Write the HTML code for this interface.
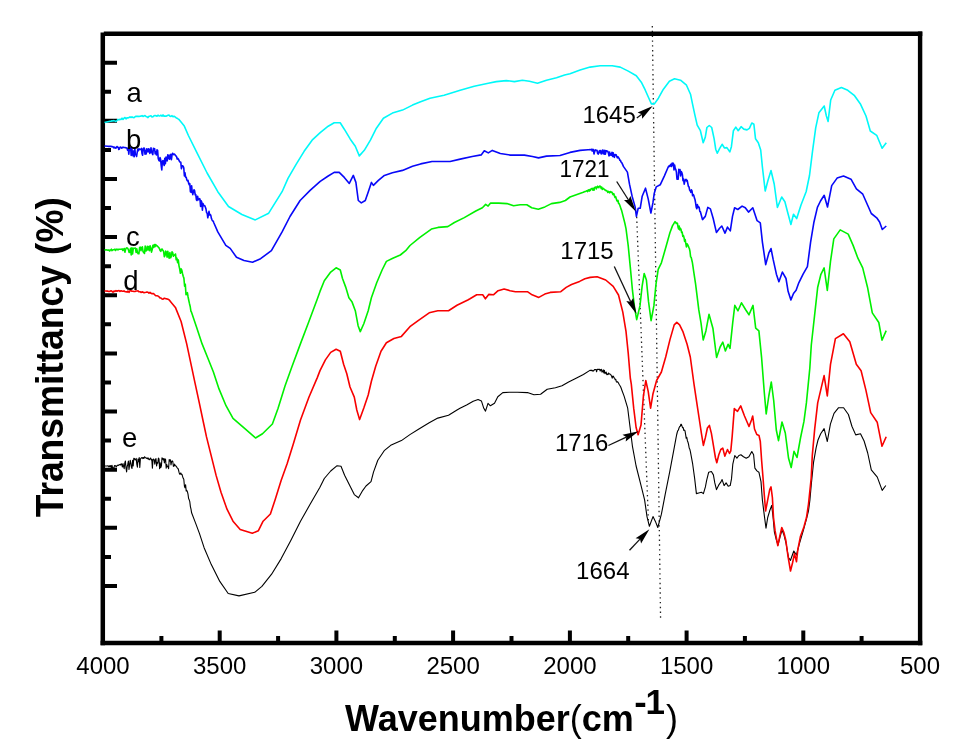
<!DOCTYPE html>
<html><head><meta charset="utf-8"><style>
html,body{margin:0;padding:0;background:#fff;width:973px;height:747px;overflow:hidden}
svg{display:block}
text{font-family:"Liberation Sans",Arial,sans-serif;fill:#000}
.tl{font-size:24px}
.lt{font-size:27.5px}
.an{font-size:24px}
.xt{font-size:36px;font-weight:bold}
.yt{font-size:38px;font-weight:bold}
</style></head><body>
<svg width="973" height="747" viewBox="0 0 973 747">
<rect x="0" y="0" width="973" height="747" fill="#ffffff"/>
<line x1="652.3" y1="26" x2="660.6" y2="621" stroke="#222" stroke-width="1.3" stroke-dasharray="1.4 3.4"/>
<line x1="636.5" y1="212" x2="648.5" y2="523" stroke="#222" stroke-width="1.3" stroke-dasharray="1.4 3.4"/>
<path d="M102.8 32.6 V645.2" stroke="#000" stroke-width="4.5" fill="none"/>
<path d="M100.6 642.9 H922.3" stroke="#000" stroke-width="4.5" fill="none"/>
<path d="M103.8 33.8 H922.3" stroke="#000" stroke-width="4.4" fill="none"/>
<path d="M920.1 31.6 V645.2" stroke="#000" stroke-width="4.4" fill="none"/>
<path d="M105 62.7 H117 M105 91.7 H111 M105 120.8 H117 M105 149.9 H111 M105 178.9 H117 M105 208.0 H111 M105 237.1 H117 M105 266.2 H111 M105 295.2 H117 M105 324.3 H111 M105 353.4 H117 M105 382.4 H111 M105 411.5 H117 M105 440.6 H111 M105 469.7 H117 M105 498.7 H111 M105 527.8 H117 M105 556.9 H111 M105 585.9 H117" stroke="#000" stroke-width="4" fill="none"/>
<path d="M161.4 641 V636.0 M219.7 641 V630.5 M278.1 641 V636.0 M336.4 641 V630.5 M394.8 641 V636.0 M453.1 641 V630.5 M511.5 641 V636.0 M569.9 641 V630.5 M628.2 641 V636.0 M686.6 641 V630.5 M744.9 641 V636.0 M803.3 641 V630.5 M861.6 641 V636.0" stroke="#000" stroke-width="4" fill="none"/>
<path d="M104.5 466.0 L106.0 466.0 L106.6 466.0 L107.2 466.0 L107.8 465.8 L108.4 466.1 L109.0 466.9 L109.6 465.7 L110.2 466.7 L110.8 465.6 L111.4 468.1 L112.0 465.4 L112.6 467.6 L113.2 467.9 L113.8 468.7 L114.4 465.8 L115.0 465.5 L115.6 465.9 L116.2 466.9 L116.8 466.0 L117.4 465.4 L118.0 465.1 L118.6 465.4 L119.2 464.9 L119.8 464.5 L120.0 464.4 L120.6 465.0 L121.2 463.7 L121.8 464.5 L122.4 467.0 L123.0 463.5 L123.6 466.5 L124.2 468.7 L124.8 462.8 L125.4 461.0 L126.0 468.0 L126.6 471.9 L127.2 466.5 L127.8 464.2 L128.4 461.1 L129.0 469.5 L129.6 464.9 L130.2 460.2 L130.8 463.1 L131.4 467.1 L132.0 468.4 L132.6 460.4 L133.2 465.9 L133.8 458.2 L134.4 458.4 L135.0 459.9 L135.6 459.7 L136.2 458.4 L136.8 464.1 L137.4 467.2 L138.0 459.1 L138.6 461.6 L139.2 457.5 L139.8 467.4 L140.4 458.7 L141.0 458.4 L141.6 457.7 L142.2 457.5 L142.8 458.6 L143.4 457.5 L144.0 458.4 L144.6 456.8 L145.2 457.4 L145.8 457.9 L146.4 458.4 L147.0 457.8 L147.6 458.8 L148.2 458.0 L148.8 459.4 L149.4 459.7 L150.0 458.7 L150.6 458.0 L151.2 459.9 L151.8 459.4 L152.4 468.1 L153.0 459.4 L153.6 459.1 L154.2 460.0 L154.8 464.1 L155.4 459.3 L156.0 458.7 L156.6 466.0 L157.2 462.6 L157.8 463.2 L158.4 458.1 L159.0 458.8 L159.6 468.6 L160.2 462.8 L160.8 467.6 L161.4 465.9 L162.0 457.9 L162.6 458.4 L163.2 459.9 L163.8 458.5 L164.4 463.0 L165.0 458.8 L165.6 459.6 L166.2 468.1 L166.8 464.6 L167.4 466.8 L168.0 466.3 L168.6 468.7 L169.2 459.5 L169.8 461.1 L170.4 459.8 L171.0 464.9 L171.6 461.7 L172.2 460.9 L172.8 461.5 L173.4 466.4 L174.0 466.0 L174.6 464.1 L175.2 465.7 L175.8 465.7 L176.0 466.0 L176.0 466.0 L176.6 466.9 L177.2 467.8 L177.8 468.4 L178.4 469.4 L179.0 472.2 L179.6 474.2 L180.2 474.2 L180.8 472.9 L181.4 474.4 L182.0 474.4 L182.6 476.5 L183.2 478.3 L183.8 479.3 L184.4 486.0 L185.0 487.8 L185.6 484.7 L186.2 491.0 L186.8 490.4 L187.4 491.7 L188.0 494.2 L188.6 498.5 L189.2 499.8 L189.8 501.7 L190.4 506.6 L191.0 509.2 L191.6 512.8 L195.5 522.9 L199.5 533.6 L204.1 547.7 L211.3 564.6 L219.8 581.4 L228.2 593.5 L239.0 595.9 L254.7 592.3 L261.9 586.3 L271.6 574.2 L281.2 558.6 L290.8 540.5 L300.5 521.2 L310.1 504.3 L319.8 487.5 L324.3 478.5 L330.7 471.0 L337.1 465.7 L341.0 466.3 L344.6 475.3 L350.0 486.0 L354.3 494.6 L358.5 497.8 L362.8 490.3 L366.0 486.0 L371.0 481.7 L373.5 472.1 L377.8 460.3 L384.2 450.7 L390.7 445.3 L401.4 440.6 L409.9 434.6 L418.5 429.3 L429.2 422.8 L437.8 418.1 L448.5 415.3 L457.0 410.0 L460.0 408.3 L466.6 405.0 L473.2 401.2 L478.1 399.5 L481.4 400.9 L483.8 408.3 L485.5 411.1 L488.0 403.3 L490.4 405.8 L494.5 403.3 L497.8 396.7 L502.8 392.6 L509.3 392.3 L517.6 392.3 L527.4 392.6 L534.0 394.8 L540.6 394.3 L547.2 389.3 L555.4 387.7 L562.0 385.7 L568.6 381.9 L575.1 378.7 L583.4 374.5 L589.9 370.4 L590.0 370.4 L590.6 370.3 L591.2 370.7 L591.8 370.1 L592.4 370.9 L593.0 370.7 L593.6 371.0 L594.2 370.0 L594.8 369.5 L595.4 369.5 L596.0 369.6 L596.6 371.8 L597.2 369.2 L597.8 369.4 L598.4 369.4 L599.0 369.2 L599.6 369.3 L600.2 371.0 L600.8 369.5 L601.4 369.4 L602.0 372.2 L602.6 371.7 L603.2 369.8 L603.8 372.9 L604.4 370.3 L605.0 373.6 L605.6 372.7 L606.2 372.2 L606.8 374.6 L607.4 374.0 L608.0 374.7 L608.6 373.0 L609.2 373.8 L609.8 374.0 L610.4 374.5 L611.0 374.9 L611.6 376.2 L612.2 378.2 L612.8 376.1 L613.4 376.3 L614.0 377.7 L614.6 378.1 L615.2 379.7 L615.8 379.4 L616.4 381.9 L617.0 382.1 L617.6 381.7 L618.2 382.6 L618.8 383.7 L619.4 384.8 L620.0 385.7 L620.6 386.7 L621.2 388.3 L621.8 390.0 L624.1 396.1 L627.7 408.2 L630.1 427.5 L632.5 446.7 L636.1 466.0 L641.0 485.3 L644.6 499.8 L647.0 516.6 L649.4 526.3 L653.0 516.6 L655.4 521.4 L657.8 527.5 L661.4 514.2 L665.1 494.9 L669.9 470.8 L673.5 451.6 L676.0 438.2 L676.6 435.0 L677.2 432.5 L677.8 430.6 L678.4 430.1 L679.0 428.0 L679.6 426.6 L680.2 426.4 L680.8 424.3 L681.4 424.4 L682.0 426.1 L682.6 427.7 L683.2 427.6 L683.8 430.4 L684.4 430.0 L685.0 430.9 L685.6 434.4 L686.2 438.3 L686.8 437.4 L687.4 440.7 L688.0 442.2 L688.6 444.6 L689.2 448.0 L689.8 449.2 L690.4 451.6 L691.0 454.9 L691.6 458.2 L692.7 464.2 L694.7 478.9 L696.4 493.6 L698.7 493.0 L701.4 492.3 L703.4 493.6 L705.4 486.9 L706.7 480.2 L708.7 472.2 L711.4 471.5 L713.4 474.9 L714.8 482.9 L716.5 489.6 L718.8 484.9 L720.8 482.2 L722.1 479.6 L724.1 485.6 L726.1 482.9 L728.2 486.3 L730.2 485.6 L731.5 478.9 L732.8 464.2 L734.8 455.5 L736.9 458.2 L738.9 455.5 L740.9 454.8 L743.5 456.8 L746.2 458.2 L748.9 456.8 L751.8 451.5 L753.6 454.8 L754.9 468.2 L756.9 470.9 L758.9 472.2 L761.0 481.6 L762.4 500.1 L764.4 516.1 L766.0 528.2 L767.7 517.5 L769.7 510.8 L771.7 505.4 L773.1 517.5 L774.4 532.2 L776.4 540.2 L778.0 545.0 L780.0 537.0 L782.0 530.0 L784.0 535.0 L786.0 543.0 L788.5 557.6 L790.5 560.3 L793.8 551.0 L796.5 555.0 L799.2 544.3 L803.2 530.9 L806.5 518.8 L808.5 510.8 L809.9 500.1 L811.2 485.4 L813.5 462.7 L816.1 447.9 L818.0 440.0 L820.7 433.7 L824.1 428.6 L827.3 441.5 L830.4 424.1 L834.0 413.3 L838.6 407.7 L843.6 407.7 L848.4 414.5 L852.0 426.5 L855.7 434.9 L860.5 433.7 L864.1 441.0 L867.7 453.0 L871.3 469.9 L877.3 477.1 L882.2 490.4 L885.8 485.5" fill="none" stroke="#000000" stroke-width="1.1" stroke-linejoin="round"/>
<path d="M104.5 291.0 L106.0 291.0 L107.0 291.1 L108.0 291.1 L109.0 291.6 L110.0 291.2 L111.0 290.8 L112.0 291.3 L113.0 292.1 L114.0 291.1 L115.0 291.4 L116.0 290.6 L117.0 291.2 L118.0 290.7 L119.0 290.6 L120.0 291.4 L121.0 290.8 L122.0 291.1 L123.0 291.3 L124.0 290.9 L125.0 291.7 L126.0 291.8 L127.0 292.1 L128.0 291.0 L129.0 292.4 L130.0 290.7 L131.0 290.8 L132.0 291.3 L133.0 291.2 L134.0 291.5 L135.0 291.5 L136.0 291.0 L137.0 291.0 L138.0 290.9 L139.0 291.8 L140.0 291.7 L141.0 292.5 L142.0 291.9 L143.0 292.1 L144.0 292.7 L145.0 292.5 L146.0 292.3 L147.0 292.0 L148.0 292.2 L149.0 293.2 L150.0 292.4 L151.0 293.3 L152.0 293.7 L153.0 293.4 L154.0 293.9 L155.0 295.1 L156.0 295.8 L157.0 295.7 L158.0 296.0 L159.0 296.8 L160.0 297.9 L161.0 298.0 L162.0 299.0 L163.0 299.2 L164.0 298.3 L165.0 298.4 L166.0 298.7 L167.0 298.9 L168.0 299.3 L169.0 299.8 L170.0 300.9 L175.4 307.4 L181.1 321.5 L186.7 343.9 L190.9 363.6 L195.1 383.3 L199.3 402.9 L202.9 420.0 L206.5 436.9 L211.3 456.1 L216.1 475.4 L221.0 492.3 L227.0 509.2 L233.0 521.2 L240.2 529.6 L252.3 533.3 L258.3 530.8 L263.1 521.2 L270.4 514.0 L275.2 499.5 L281.2 480.2 L287.2 463.4 L293.3 444.1 L300.5 420.0 L308.9 397.3 L317.3 377.6 L320.0 370.6 L325.4 359.9 L330.7 352.4 L336.1 349.2 L340.3 351.3 L343.6 364.2 L346.8 373.8 L350.0 387.0 L354.3 397.1 L356.8 410.0 L359.6 419.6 L363.9 407.8 L368.2 395.0 L371.4 381.3 L375.7 366.3 L381.0 351.3 L386.4 342.8 L393.9 338.5 L401.4 336.4 L409.9 326.7 L418.5 320.3 L429.2 312.8 L437.8 310.7 L448.5 310.7 L457.0 305.3 L467.8 300.0 L470.0 298.8 L476.7 294.8 L482.7 294.8 L485.4 298.8 L488.7 294.4 L493.4 294.8 L498.1 290.7 L504.1 289.1 L510.1 290.7 L515.4 291.7 L527.4 291.7 L532.1 294.8 L538.8 297.4 L544.8 294.1 L550.2 292.4 L560.8 291.7 L566.2 287.4 L571.5 284.5 L579.6 281.4 L584.9 278.7 L590.2 277.4 L597.1 276.7 L605.7 280.0 L613.2 286.4 L618.5 295.0 L622.8 312.1 L626.0 331.3 L628.2 352.8 L630.3 378.0 L631.3 384.1 L633.7 408.2 L636.1 427.5 L638.1 434.7 L641.0 425.1 L643.4 396.1 L645.8 380.5 L648.2 391.3 L650.6 408.2 L653.0 393.7 L656.6 380.5 L661.4 372.0 L665.7 357.0 L669.9 339.9 L674.2 324.9 L676.8 322.4 L679.6 324.9 L682.8 331.3 L687.1 344.2 L690.3 357.0 L694.0 384.1 L697.6 408.2 L699.4 420.0 L701.4 433.4 L703.4 445.4 L705.4 437.4 L707.4 428.0 L709.4 425.4 L711.4 433.4 L713.4 445.4 L715.4 457.5 L716.8 462.8 L718.8 454.8 L720.8 449.5 L722.8 448.1 L724.8 456.1 L727.5 449.5 L729.5 453.5 L730.8 450.8 L732.2 436.1 L734.3 408.6 L737.5 411.3 L740.7 405.9 L744.5 416.0 L749.0 426.5 L751.5 420.0 L752.7 416.0 L754.5 429.0 L756.8 434.5 L759.0 435.5 L760.3 441.4 L761.6 460.2 L762.9 476.2 L764.3 495.0 L765.6 511.0 L767.6 500.3 L769.7 489.6 L771.0 486.9 L772.4 497.6 L773.5 517.5 L775.1 530.9 L777.8 545.6 L779.8 536.2 L781.8 527.5 L783.8 532.2 L785.8 540.2 L787.8 555.0 L790.5 571.0 L792.5 563.0 L794.5 553.6 L796.5 561.7 L797.8 549.6 L800.5 536.2 L803.9 526.9 L806.5 517.5 L808.5 504.1 L809.9 490.7 L811.2 478.0 L812.3 455.4 L814.7 428.9 L817.7 402.9 L824.1 375.6 L827.3 395.9 L830.5 364.3 L835.4 338.6 L843.4 333.8 L849.8 341.8 L856.3 364.3 L861.1 370.8 L865.9 390.1 L870.7 412.6 L877.2 422.2 L882.0 446.3 L886.2 436.7" fill="none" stroke="#f80000" stroke-width="1.6" stroke-linejoin="round"/>
<path d="M104.5 250.0 L106.0 249.9 L106.6 249.9 L107.2 250.1 L107.8 250.3 L108.4 250.1 L109.0 250.0 L109.6 251.0 L110.2 250.0 L110.8 249.9 L111.4 249.2 L112.0 250.6 L112.6 250.1 L113.2 249.8 L113.8 249.8 L114.4 249.4 L115.0 249.4 L115.6 250.5 L116.2 249.2 L116.8 249.4 L117.4 249.3 L118.0 249.9 L118.6 249.3 L119.2 249.3 L119.8 249.3 L120.0 249.2 L120.7 249.3 L121.4 249.2 L122.1 248.9 L122.8 250.5 L123.5 249.5 L124.2 248.5 L124.9 252.2 L125.6 249.4 L126.3 248.0 L127.0 247.9 L127.7 248.4 L128.4 249.6 L129.1 252.4 L129.8 252.2 L130.5 248.3 L131.2 255.0 L131.9 247.9 L132.6 254.0 L133.3 248.2 L134.0 248.3 L134.7 248.3 L135.4 248.0 L136.1 252.4 L136.8 248.8 L137.5 252.6 L138.2 253.7 L138.9 253.8 L139.6 247.5 L140.3 247.2 L141.0 250.6 L141.7 247.7 L142.4 246.8 L143.1 251.8 L143.8 252.5 L144.5 253.4 L145.2 246.0 L145.9 250.9 L146.6 250.6 L147.3 246.2 L148.0 249.6 L148.7 246.6 L149.4 250.7 L150.1 245.8 L150.8 248.3 L151.5 252.1 L152.2 249.5 L152.9 245.4 L153.6 247.5 L154.3 244.5 L155.0 246.8 L155.7 244.5 L156.4 245.8 L157.1 245.9 L157.8 246.6 L158.0 246.8 L158.7 247.5 L159.4 248.5 L160.1 250.4 L160.8 251.3 L161.5 249.3 L162.2 249.1 L162.9 250.5 L163.6 251.3 L164.3 256.7 L165.0 255.6 L165.7 251.1 L166.4 252.2 L167.1 257.2 L167.8 251.2 L168.5 255.7 L169.2 258.2 L169.9 252.5 L170.6 257.8 L171.3 256.4 L172.0 251.9 L172.7 252.7 L173.4 256.2 L174.1 255.1 L174.8 255.0 L175.5 254.0 L176.2 259.8 L176.9 258.2 L177.6 262.6 L178.3 259.9 L179.0 265.8 L179.7 269.0 L180.4 273.3 L181.1 268.8 L181.8 270.1 L182.5 273.5 L183.2 276.3 L183.9 278.1 L184.6 286.2 L185.3 284.2 L186.0 294.7 L186.7 294.5 L187.4 292.7 L188.1 297.0 L188.8 300.5 L189.5 303.7 L190.2 306.5 L190.9 311.1 L191.6 312.4 L196.5 327.1 L202.1 343.9 L207.8 358.0 L213.4 372.0 L219.0 388.9 L226.0 405.7 L233.0 418.4 L244.3 428.2 L255.5 438.0 L262.5 433.8 L272.4 424.0 L278.0 408.5 L285.0 386.1 L292.0 366.4 L300.4 343.9 L308.9 321.5 L317.3 299.0 L320.0 291.4 L324.3 280.7 L330.7 272.1 L336.1 267.8 L340.3 270.0 L342.5 278.5 L345.7 287.1 L348.9 297.8 L352.1 302.1 L355.3 310.7 L358.1 325.7 L360.3 331.6 L363.9 323.5 L368.2 310.7 L371.4 297.8 L376.7 282.8 L382.1 270.0 L386.4 261.4 L392.8 258.2 L400.3 255.0 L405.7 250.7 L410.0 245.5 L419.9 237.3 L431.4 229.1 L438.0 227.4 L447.8 226.6 L454.4 222.5 L464.3 217.6 L475.8 211.0 L482.4 207.7 L485.7 204.4 L488.1 206.1 L490.6 203.1 L498.8 203.1 L507.0 203.6 L513.6 205.7 L520.2 204.7 L526.8 204.7 L531.7 207.7 L538.3 209.3 L544.9 206.9 L551.4 203.6 L559.7 202.4 L565.4 200.5 L570.0 197.0 L583.3 192.2 L585.0 191.5 L585.6 191.5 L586.2 191.0 L586.8 190.8 L587.4 191.6 L588.0 190.2 L588.6 189.8 L589.2 191.1 L589.8 189.5 L590.4 190.3 L591.0 189.0 L591.6 188.6 L592.2 188.4 L592.8 190.1 L593.4 188.3 L594.0 190.2 L594.6 187.6 L595.2 187.2 L595.8 187.0 L596.4 188.9 L597.0 186.8 L597.6 186.2 L598.2 187.3 L598.8 187.7 L599.4 186.4 L600.0 186.0 L600.6 186.6 L601.2 188.5 L601.8 187.2 L602.4 189.5 L603.0 188.3 L603.6 188.6 L604.2 189.3 L604.8 189.7 L605.4 190.5 L606.0 190.4 L606.6 190.9 L607.2 191.0 L607.8 192.4 L608.4 191.4 L609.0 191.8 L609.6 192.9 L610.2 191.6 L610.8 192.3 L611.4 192.0 L612.0 192.3 L612.6 193.9 L613.2 194.7 L613.8 193.6 L614.4 195.8 L615.0 197.4 L615.6 196.6 L616.2 198.6 L616.8 200.5 L617.4 201.4 L618.0 200.4 L618.6 203.5 L619.2 203.8 L619.8 205.3 L620.4 207.0 L621.0 208.9 L621.6 210.4 L624.8 223.0 L626.0 228.6 L628.2 245.7 L630.3 267.1 L632.5 290.7 L634.6 307.8 L636.7 319.6 L640.0 305.7 L642.1 286.4 L644.2 273.5 L646.4 280.0 L648.5 301.4 L651.1 320.6 L653.9 305.7 L656.0 284.2 L658.2 269.3 L661.4 262.8 L665.7 247.8 L669.9 232.8 L672.0 227.1 L672.6 225.4 L673.2 224.8 L673.8 223.7 L674.4 222.7 L675.0 221.7 L675.6 222.1 L676.2 223.5 L676.8 223.0 L677.4 223.2 L678.0 226.9 L678.6 228.9 L679.2 226.0 L679.8 230.0 L680.4 228.3 L681.0 229.4 L681.6 232.5 L682.2 232.2 L682.8 236.5 L683.4 235.5 L684.0 237.4 L684.6 241.5 L685.2 239.6 L685.8 243.5 L686.4 246.9 L687.0 243.8 L687.6 244.5 L688.2 245.9 L688.8 247.4 L689.4 248.6 L690.0 251.5 L690.6 256.9 L691.2 257.3 L691.8 260.0 L692.4 262.7 L693.0 266.7 L693.6 270.8 L695.6 284.2 L698.8 309.9 L701.0 322.8 L703.2 340.0 L705.9 330.9 L709.0 314.3 L712.9 328.2 L716.6 357.5 L720.1 347.0 L722.8 342.1 L725.4 351.0 L728.1 344.3 L730.0 348.3 L732.7 322.9 L734.8 305.4 L738.0 310.8 L741.5 302.8 L745.5 309.5 L749.0 314.8 L753.0 305.4 L755.7 328.2 L758.9 330.9 L761.6 357.7 L764.3 392.5 L766.2 414.0 L768.8 396.0 L771.3 382.0 L773.7 400.5 L776.3 430.0 L778.5 440.7 L782.0 422.0 L785.3 433.0 L788.5 458.0 L791.2 467.5 L794.0 451.4 L797.0 457.5 L800.5 438.0 L803.9 421.7 L806.4 402.9 L809.8 368.4 L811.3 345.0 L814.5 316.1 L817.7 287.2 L820.9 274.3 L824.1 267.9 L827.3 290.4 L830.5 261.4 L833.8 238.9 L840.2 229.9 L848.2 234.1 L853.1 245.4 L857.9 258.2 L862.7 267.9 L867.5 287.2 L872.3 312.9 L878.8 322.5 L882.0 340.2 L886.2 330.6" fill="none" stroke="#00f000" stroke-width="1.6" stroke-linejoin="round"/>
<path d="M104.5 146.0 L108.0 146.2 L108.6 146.4 L109.2 146.4 L109.8 146.3 L110.4 146.4 L111.0 146.2 L111.6 146.4 L112.2 146.9 L112.8 146.6 L113.4 147.1 L114.0 148.0 L114.6 147.2 L115.2 147.6 L115.8 148.2 L116.4 147.4 L117.0 146.5 L117.6 147.3 L118.2 147.4 L118.8 149.4 L119.4 149.0 L120.0 147.3 L120.6 147.1 L121.2 147.4 L121.8 148.2 L122.4 147.4 L123.0 147.3 L123.6 147.4 L124.0 147.5 L124.6 147.5 L125.2 147.6 L125.8 147.7 L126.4 148.0 L127.0 148.0 L127.6 150.3 L128.2 148.2 L128.8 154.1 L129.4 148.8 L130.0 147.9 L130.6 147.6 L131.2 155.4 L131.8 147.8 L132.4 152.9 L133.0 155.8 L133.6 151.1 L134.2 156.8 L134.8 147.8 L135.4 154.8 L136.0 154.4 L136.6 156.5 L137.2 152.5 L137.8 149.1 L138.4 150.7 L139.0 148.8 L139.6 149.5 L140.2 149.5 L140.8 149.4 L141.4 148.4 L142.0 153.4 L142.6 155.3 L143.2 148.6 L143.8 148.1 L144.4 148.3 L145.0 154.1 L145.6 150.6 L146.2 154.0 L146.8 148.7 L147.4 149.5 L148.0 151.9 L148.6 148.8 L149.2 149.1 L149.8 153.4 L150.4 152.2 L151.0 147.8 L151.6 151.5 L152.2 153.4 L152.8 154.6 L153.4 148.2 L154.0 149.7 L154.6 148.7 L155.2 153.8 L155.8 151.9 L156.4 154.9 L157.0 149.8 L157.6 150.3 L158.2 158.3 L158.8 160.3 L159.4 161.0 L160.0 157.6 L160.6 159.3 L161.2 165.6 L161.8 170.0 L162.4 161.0 L163.0 160.5 L163.6 163.4 L164.2 165.4 L164.8 158.4 L165.4 163.8 L166.0 157.0 L166.6 160.5 L167.2 160.9 L167.8 154.8 L168.4 155.3 L169.0 158.9 L169.6 159.2 L170.2 154.7 L170.8 154.3 L171.4 159.6 L172.0 155.3 L172.6 153.3 L173.2 154.1 L173.8 154.6 L174.4 154.1 L175.0 154.8 L175.6 155.5 L176.0 156.1 L176.6 156.8 L177.2 159.1 L177.8 158.4 L178.4 159.1 L179.0 160.3 L179.6 161.8 L180.2 162.1 L180.8 162.3 L181.4 168.8 L182.0 165.8 L182.6 165.7 L183.2 166.3 L183.8 168.1 L184.4 176.0 L185.0 172.8 L185.6 177.1 L186.2 177.2 L186.8 179.9 L187.4 180.8 L188.0 180.3 L188.6 183.1 L189.2 184.6 L189.8 183.7 L190.4 191.8 L191.0 192.2 L191.6 185.7 L192.2 191.9 L192.8 194.6 L193.4 191.9 L194.0 189.8 L194.6 190.7 L195.2 195.0 L195.8 194.7 L196.4 199.7 L197.0 200.5 L197.6 196.2 L198.2 199.7 L198.8 199.7 L199.4 198.7 L200.0 199.2 L200.6 206.5 L201.2 200.8 L201.8 202.2 L202.4 210.2 L203.0 203.5 L203.6 205.6 L204.2 205.5 L204.8 205.7 L205.4 207.3 L206.0 209.1 L206.6 212.6 L207.2 213.2 L207.8 217.8 L208.4 214.6 L209.0 211.4 L209.6 215.0 L210.2 214.6 L210.8 215.3 L211.4 218.4 L212.0 219.8 L212.6 221.0 L213.2 221.0 L213.8 222.7 L217.8 231.9 L225.8 245.3 L230.2 248.4 L236.5 257.3 L244.0 260.5 L252.6 262.2 L260.6 258.7 L271.4 250.6 L282.1 231.9 L290.0 216.5 L300.1 200.5 L310.1 190.4 L320.2 181.4 L328.2 176.0 L334.2 172.4 L339.2 172.4 L344.3 177.4 L349.3 183.4 L353.3 175.4 L355.9 182.4 L358.3 200.5 L361.3 202.9 L365.3 200.5 L368.4 191.4 L371.4 182.4 L373.4 185.4 L378.4 180.4 L384.4 175.4 L392.4 172.8 L402.5 170.4 L412.5 166.3 L420.6 163.9 L432.0 161.5 L450.1 161.5 L460.2 159.1 L472.2 156.5 L481.2 154.9 L484.3 150.8 L488.3 152.9 L492.3 150.4 L500.3 153.5 L510.4 155.1 L524.4 155.1 L532.4 156.5 L538.5 157.9 L546.5 156.1 L560.0 155.5 L570.0 152.4 L580.1 150.4 L588.0 149.7 L588.6 149.7 L589.2 149.7 L589.8 149.6 L590.4 149.7 L591.0 149.6 L591.6 149.3 L592.2 151.1 L592.8 149.3 L593.4 149.6 L594.0 154.0 L594.6 151.8 L595.2 149.9 L595.8 150.5 L596.4 150.2 L597.0 150.2 L597.6 153.4 L598.2 154.1 L598.8 152.2 L599.4 150.7 L600.0 152.7 L600.6 150.6 L601.2 153.9 L601.8 153.8 L602.4 150.3 L603.0 150.0 L603.6 153.7 L604.2 154.2 L604.8 150.2 L605.4 154.1 L606.0 150.8 L606.6 150.9 L607.2 151.5 L607.8 151.3 L608.4 153.0 L609.0 155.9 L609.6 152.0 L610.2 155.1 L610.8 154.0 L611.4 155.2 L612.0 152.2 L612.6 156.5 L613.2 152.8 L613.8 156.1 L614.4 157.3 L615.0 154.5 L615.6 154.8 L616.2 154.8 L616.8 156.7 L617.4 157.8 L618.0 156.8 L618.6 157.9 L619.2 158.5 L619.8 160.3 L620.4 160.2 L621.0 162.1 L621.6 162.4 L622.2 163.6 L622.8 164.9 L623.4 166.4 L627.4 172.1 L629.5 184.2 L632.1 196.2 L635.1 206.9 L636.4 216.3 L638.2 208.3 L640.2 208.3 L642.2 196.2 L645.5 188.2 L648.2 198.9 L650.9 213.0 L652.9 202.9 L654.2 193.5 L656.2 186.9 L660.2 184.8 L664.3 176.1 L668.0 167.5 L668.6 166.5 L669.2 165.8 L669.8 166.5 L670.4 164.8 L671.0 164.2 L671.6 166.5 L672.2 163.1 L672.8 165.3 L673.4 163.3 L674.0 169.9 L674.6 165.0 L675.2 168.5 L675.8 169.4 L676.4 172.1 L677.0 179.2 L677.6 179.0 L678.2 179.1 L678.8 169.4 L679.4 172.5 L680.0 169.5 L680.6 175.9 L681.2 171.6 L681.8 172.4 L682.4 174.6 L683.0 180.6 L683.6 179.0 L684.2 184.2 L684.8 181.3 L685.4 179.9 L686.0 179.3 L686.6 181.0 L687.2 180.3 L687.8 183.4 L688.4 186.4 L689.0 186.9 L689.6 189.9 L690.2 190.7 L690.8 192.3 L691.4 189.9 L692.0 190.9 L692.6 195.8 L693.2 194.4 L693.8 195.4 L694.4 197.9 L695.0 199.5 L695.6 202.8 L696.2 207.1 L696.8 208.7 L697.4 204.6 L698.0 207.4 L698.6 206.7 L699.2 207.4 L699.8 211.5 L700.4 211.8 L701.0 214.0 L701.6 216.3 L702.5 219.6 L705.3 216.4 L707.8 207.4 L710.4 208.9 L713.2 218.5 L716.4 232.4 L719.6 228.2 L721.8 226.0 L725.0 233.1 L727.5 227.1 L730.3 230.9 L732.5 216.4 L734.6 207.8 L737.8 209.5 L742.1 206.1 L745.3 207.8 L748.5 212.1 L752.8 207.8 L757.1 220.7 L760.3 222.8 L762.4 242.1 L765.7 264.6 L768.9 252.8 L771.0 248.5 L773.1 259.2 L776.4 274.2 L778.9 281.7 L782.4 272.1 L786.0 278.5 L788.1 291.3 L790.9 299.9 L793.5 293.5 L796.1 290.3 L798.8 282.8 L803.1 274.2 L807.4 266.7 L810.6 242.1 L813.8 222.8 L817.4 207.4 L820.5 201.0 L824.2 195.3 L827.5 207.0 L831.7 185.6 L837.1 178.1 L843.5 176.0 L851.0 179.2 L856.4 188.8 L862.8 194.2 L868.0 206.0 L871.3 213.5 L876.7 217.8 L879.6 222.0 L882.3 229.5 L886.3 226.0" fill="none" stroke="#0808f8" stroke-width="1.6" stroke-linejoin="round"/>
<path d="M104.5 122.5 L110.0 121.3 L110.0 121.3 L111.0 121.3 L112.0 120.8 L113.0 121.0 L114.0 120.6 L115.0 121.1 L116.0 121.5 L117.0 120.5 L118.0 119.4 L119.0 119.9 L120.0 119.3 L121.0 119.4 L122.0 118.2 L123.0 119.4 L124.0 118.2 L125.0 117.5 L126.0 118.9 L127.0 117.7 L128.0 117.9 L129.0 117.6 L130.0 116.9 L131.0 117.5 L132.0 116.9 L133.0 117.5 L134.0 117.6 L135.0 116.8 L136.0 116.3 L137.0 116.4 L138.0 116.3 L139.0 116.6 L140.0 116.3 L141.0 116.1 L142.0 115.6 L143.0 116.5 L144.0 116.0 L145.0 115.6 L146.0 116.4 L147.0 116.8 L148.0 117.6 L149.0 116.2 L150.0 116.1 L151.0 115.8 L152.0 117.0 L153.0 116.8 L154.0 115.7 L155.0 115.5 L156.0 115.8 L157.0 116.3 L158.0 115.2 L159.0 116.0 L160.0 115.9 L161.0 115.2 L162.0 116.2 L163.0 114.9 L164.0 116.3 L165.0 115.9 L166.0 116.2 L167.0 115.7 L168.0 115.3 L169.0 115.1 L170.0 116.2 L171.0 116.4 L172.0 115.7 L173.0 116.8 L174.0 116.2 L175.0 116.9 L176.0 117.7 L177.0 118.2 L178.0 118.9 L179.0 119.5 L184.3 126.1 L188.4 135.5 L196.4 151.6 L207.1 173.0 L217.8 191.7 L228.5 206.5 L241.9 214.5 L255.3 219.9 L268.7 213.2 L282.1 191.7 L288.0 178.4 L296.1 164.3 L304.1 151.3 L312.1 140.2 L320.2 132.6 L328.2 126.2 L334.2 122.8 L340.2 122.8 L344.3 129.2 L350.3 139.2 L355.3 146.3 L359.3 155.9 L364.3 150.3 L370.4 140.2 L376.4 128.2 L383.4 118.2 L392.4 113.1 L402.5 110.1 L412.5 105.1 L420.6 101.7 L430.0 98.2 L444.1 95.2 L460.2 90.2 L474.2 86.2 L488.3 83.2 L496.3 81.6 L506.3 80.6 L514.4 81.6 L522.4 80.2 L529.4 81.2 L537.5 83.2 L546.5 80.2 L556.5 77.8 L564.6 75.1 L570.0 73.7 L580.1 70.1 L590.1 67.1 L600.2 65.7 L612.2 65.7 L620.2 67.1 L628.3 71.1 L636.3 75.7 L641.3 82.2 L645.3 90.2 L648.4 97.2 L651.4 103.9 L654.4 103.9 L658.4 98.2 L663.4 89.2 L669.4 81.2 L674.5 78.8 L680.5 80.2 L686.5 85.2 L690.5 94.2 L692.4 103.4 L694.8 114.6 L697.2 125.1 L700.4 130.7 L703.2 142.7 L705.3 137.1 L706.9 127.5 L709.3 125.5 L711.7 127.5 L714.1 138.7 L715.7 149.2 L717.3 153.2 L719.7 148.4 L722.1 144.3 L724.5 148.0 L726.9 147.6 L729.8 151.9 L731.4 146.7 L733.4 130.7 L735.8 127.1 L738.2 130.7 L741.1 126.7 L743.8 129.1 L747.0 129.9 L749.4 128.3 L751.8 123.0 L753.9 124.3 L755.5 138.7 L758.3 142.7 L760.7 150.0 L762.4 167.0 L765.2 191.0 L767.8 181.0 L771.0 170.5 L774.2 184.0 L777.4 207.5 L781.7 197.0 L784.9 201.8 L788.1 214.0 L790.9 224.5 L793.5 214.3 L796.7 218.6 L801.0 205.0 L806.2 191.5 L809.5 175.5 L812.5 151.4 L815.7 127.8 L818.9 112.8 L824.2 106.0 L826.4 116.0 L828.1 121.4 L830.7 100.0 L834.9 90.3 L841.4 87.6 L847.8 90.3 L854.2 95.3 L860.6 104.3 L866.0 116.0 L870.3 131.0 L876.7 135.3 L882.1 148.2 L886.3 142.8" fill="none" stroke="#00f8f8" stroke-width="1.6" stroke-linejoin="round"/>
<text x="103.0" y="674.2" text-anchor="middle" class="tl">4000</text>
<text x="219.7" y="674.2" text-anchor="middle" class="tl">3500</text>
<text x="336.4" y="674.2" text-anchor="middle" class="tl">3000</text>
<text x="453.1" y="674.2" text-anchor="middle" class="tl">2500</text>
<text x="569.9" y="674.2" text-anchor="middle" class="tl">2000</text>
<text x="686.6" y="674.2" text-anchor="middle" class="tl">1500</text>
<text x="803.3" y="674.2" text-anchor="middle" class="tl">1000</text>
<text x="920.0" y="674.2" text-anchor="middle" class="tl">500</text>
<text x="126.5" y="101.5" class="lt">a</text>
<text x="126.0" y="149.0" class="lt">b</text>
<text x="126.0" y="246.0" class="lt">c</text>
<text x="123.3" y="289.8" class="lt">d</text>
<text x="122.0" y="447.0" class="lt">e</text>
<text x="609.1" y="122.8" text-anchor="middle" class="an">1645</text>
<text x="584.5" y="176.6" text-anchor="middle" class="an" textLength="50" lengthAdjust="spacingAndGlyphs">1721</text>
<text x="587.0" y="259.1" text-anchor="middle" class="an">1715</text>
<text x="581.7" y="450.5" text-anchor="middle" class="an">1716</text>
<text x="602.8" y="579.1" text-anchor="middle" class="an">1664</text>
<line x1="636.8" y1="118.0" x2="641.8" y2="114.2" stroke="#111" stroke-width="1.3"/><path d="M652.7 106.0 L642.2 118.7 L641.8 114.2 L637.6 112.6 Z" fill="#000"/>
<line x1="616.7" y1="181.5" x2="628.5" y2="200.0" stroke="#111" stroke-width="1.3"/><path d="M635.8 211.5 L624.0 200.0 L628.5 200.0 L630.4 196.0 Z" fill="#000"/>
<line x1="614.3" y1="266.5" x2="630.7" y2="301.7" stroke="#111" stroke-width="1.3"/><path d="M636.5 314.0 L626.3 301.1 L630.7 301.7 L633.2 297.9 Z" fill="#000"/>
<line x1="608.4" y1="445.5" x2="626.3" y2="437.1" stroke="#111" stroke-width="1.3"/><path d="M638.6 431.3 L625.7 441.5 L626.3 437.1 L622.5 434.7 Z" fill="#000"/>
<line x1="629.5" y1="550.2" x2="640.0" y2="539.1" stroke="#111" stroke-width="1.3"/><path d="M649.4 529.3 L641.1 543.5 L640.0 539.1 L635.6 538.3 Z" fill="#000"/>
<text x="345" y="730.5" class="xt">Wavenumber<tspan font-weight="normal">(</tspan>cm</text>
<text x="634.2" y="714" class="xt" style="font-size:35px" textLength="12.5" lengthAdjust="spacingAndGlyphs">-</text>
<text x="645.5" y="713.7" class="xt" style="font-size:35px">1</text>
<text x="666" y="730.5" class="xt" style="font-weight:normal">)</text>
<text transform="translate(62.6 517.2) rotate(-90)" x="0" y="0" class="yt" textLength="320" lengthAdjust="spacingAndGlyphs">Transmittancy (%)</text>
</svg>
</body></html>
